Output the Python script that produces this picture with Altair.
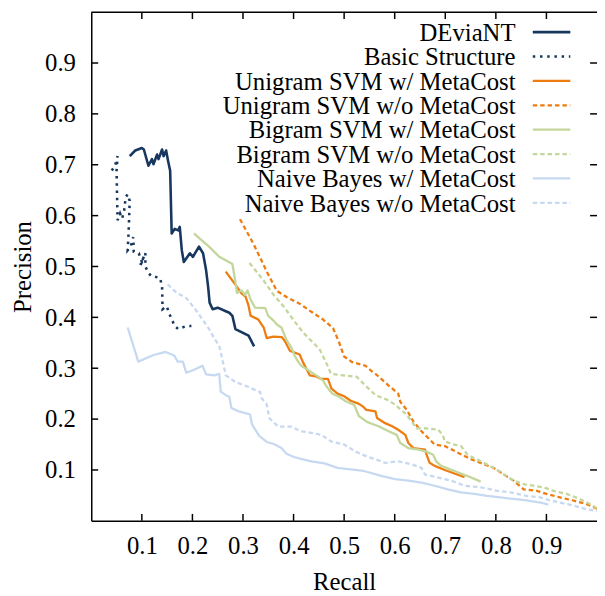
import altair as alt
import pandas as pd

SERIES = ["DEviaNT", "Basic Structure", "Unigram SVM w/ MetaCost", "Unigram SVM w/o MetaCost",
          "Bigram SVM w/ MetaCost", "Bigram SVM w/o MetaCost", "Naive Bayes w/ MetaCost",
          "Naive Bayes w/o MetaCost"]
COLORS = ["#17375E", "#17375E", "#EE7D11", "#EE7D11", "#C3D69B", "#C3D69B", "#C6D9F1", "#C6D9F1"]
DASHES = [None, [2.5, 4.8], None, [4.5, 3], None, [4.5, 3], None, [4.5, 3]]
WIDTHS = [2.6, 2.6, 2.3, 2.3, 2.3, 2.3, 2.3, 2.3]

TICKS = [0.1, 0.2, 0.3, 0.4, 0.5, 0.6, 0.7, 0.8, 0.9]

DEV_R = [0.076, 0.087, 0.100, 0.104, 0.113, 0.120, 0.123, 0.130, 0.133, 0.140, 0.143, 0.148,
         0.152, 0.156, 0.159, 0.165, 0.172, 0.175, 0.179, 0.183, 0.195, 0.201, 0.213, 0.221,
         0.227, 0.231, 0.234, 0.240, 0.250, 0.266, 0.273, 0.279, 0.285, 0.299, 0.311, 0.322]
DEV_P = [0.717, 0.728, 0.733, 0.730, 0.698, 0.711, 0.701, 0.720, 0.711, 0.730, 0.717, 0.728,
         0.707, 0.688, 0.565, 0.574, 0.571, 0.578, 0.532, 0.509, 0.526, 0.519, 0.539, 0.526,
         0.493, 0.461, 0.429, 0.416, 0.419, 0.412, 0.409, 0.403, 0.377, 0.370, 0.364, 0.343]

BASIC_R = [0.040, 0.046, 0.052, 0.050, 0.052, 0.057, 0.061, 0.065, 0.068, 0.072, 0.076, 0.074,
           0.072, 0.078, 0.083, 0.084, 0.094, 0.100, 0.104, 0.097, 0.107, 0.107, 0.113, 0.120,
           0.126, 0.136, 0.140, 0.141, 0.149, 0.156, 0.165, 0.172, 0.188, 0.198]
BASIC_P = [0.689, 0.694, 0.717, 0.688, 0.591, 0.604, 0.594, 0.610, 0.636, 0.642, 0.629, 0.571,
           0.532, 0.539, 0.558, 0.529, 0.526, 0.509, 0.519, 0.503, 0.526, 0.500, 0.487, 0.480,
           0.480, 0.477, 0.461, 0.416, 0.422, 0.403, 0.383, 0.377, 0.383, 0.383]

UNI_W_R = [0.266, 0.286, 0.296, 0.305, 0.311, 0.315, 0.330, 0.341, 0.347, 0.360, 0.377, 0.383,
           0.393, 0.412, 0.419, 0.432, 0.445, 0.455, 0.468, 0.475, 0.487, 0.500, 0.513, 0.527,
           0.537, 0.544, 0.562, 0.565, 0.581, 0.595, 0.607, 0.621, 0.627, 0.637, 0.660, 0.663,
           0.669, 0.679, 0.699, 0.718, 0.738]
UNI_W_P = [0.490, 0.463, 0.448, 0.441, 0.423, 0.403, 0.396, 0.380, 0.359, 0.362, 0.361, 0.353,
           0.334, 0.327, 0.311, 0.286, 0.284, 0.279, 0.279, 0.260, 0.250, 0.245, 0.236, 0.231,
           0.225, 0.218, 0.215, 0.202, 0.192, 0.186, 0.179, 0.169, 0.153, 0.143, 0.140, 0.130,
           0.114, 0.108, 0.100, 0.093, 0.086]

UNI_WO_R = [0.294, 0.321, 0.347, 0.367, 0.386, 0.412, 0.438, 0.458, 0.478, 0.490, 0.500, 0.516,
            0.542, 0.556, 0.562, 0.588, 0.607, 0.611, 0.624, 0.637, 0.653, 0.679, 0.699, 0.725,
            0.751, 0.777, 0.796, 0.816, 0.835, 0.855, 0.881, 0.900, 0.927, 0.953, 0.979, 1.0]
UNI_WO_P = [0.593, 0.544, 0.490, 0.452, 0.440, 0.427, 0.409, 0.396, 0.379, 0.351, 0.323, 0.312,
            0.305, 0.293, 0.289, 0.266, 0.250, 0.234, 0.218, 0.195, 0.176, 0.150, 0.147, 0.134,
            0.121, 0.111, 0.104, 0.091, 0.079, 0.062, 0.059, 0.053, 0.046, 0.040, 0.033, 0.024]

BI_W_R = [0.203, 0.218, 0.234, 0.253, 0.272, 0.279, 0.286, 0.288, 0.297, 0.304, 0.309, 0.315,
          0.324, 0.344, 0.350, 0.361, 0.367, 0.376, 0.383, 0.386, 0.396, 0.402, 0.409, 0.415,
          0.425, 0.435, 0.448, 0.458, 0.464, 0.471, 0.477, 0.490, 0.503, 0.520, 0.529, 0.546,
          0.568, 0.588, 0.604, 0.611, 0.627, 0.647, 0.663, 0.676, 0.682, 0.692, 0.718, 0.744,
          0.770]
BI_W_P = [0.565, 0.552, 0.538, 0.519, 0.509, 0.505, 0.464, 0.448, 0.453, 0.444, 0.453, 0.435,
          0.419, 0.418, 0.403, 0.393, 0.386, 0.380, 0.363, 0.356, 0.340, 0.325, 0.313, 0.305,
          0.299, 0.292, 0.284, 0.276, 0.266, 0.257, 0.250, 0.244, 0.235, 0.228, 0.206, 0.194,
          0.186, 0.176, 0.169, 0.153, 0.143, 0.140, 0.136, 0.130, 0.117, 0.108, 0.098, 0.088,
          0.077]

BI_WO_R = [0.313, 0.341, 0.360, 0.380, 0.399, 0.419, 0.438, 0.451, 0.464, 0.474, 0.498, 0.525,
           0.542, 0.562, 0.588, 0.601, 0.621, 0.634, 0.643, 0.660, 0.686, 0.695, 0.699, 0.718,
           0.731, 0.744, 0.770, 0.796, 0.816, 0.835, 0.855, 0.874, 0.894, 0.914, 0.940, 0.966,
           0.992, 1.0]
BI_WO_P = [0.507, 0.472, 0.445, 0.422, 0.396, 0.370, 0.351, 0.338, 0.312, 0.289, 0.286, 0.283,
           0.266, 0.247, 0.237, 0.228, 0.211, 0.195, 0.182, 0.182, 0.179, 0.169, 0.156, 0.150,
           0.147, 0.130, 0.117, 0.104, 0.091, 0.079, 0.072, 0.069, 0.066, 0.059, 0.053, 0.043,
           0.030, 0.024]

NB_W_R = [0.072, 0.093, 0.123, 0.147, 0.164, 0.171, 0.181, 0.188, 0.201, 0.220, 0.227, 0.243,
          0.253, 0.256, 0.266, 0.273, 0.277, 0.292, 0.314, 0.318, 0.332, 0.347, 0.361, 0.376,
          0.386, 0.402, 0.415, 0.435, 0.461, 0.487, 0.513, 0.539, 0.575, 0.601, 0.627, 0.653,
          0.679, 0.705, 0.731, 0.757, 0.783, 0.809, 0.835, 0.861, 0.888, 0.904]
NB_W_P = [0.380, 0.313, 0.326, 0.332, 0.325, 0.313, 0.313, 0.291, 0.296, 0.305, 0.288, 0.286,
          0.289, 0.254, 0.247, 0.244, 0.222, 0.215, 0.209, 0.189, 0.167, 0.155, 0.151, 0.143,
          0.132, 0.125, 0.122, 0.117, 0.113, 0.104, 0.101, 0.098, 0.088, 0.082, 0.079, 0.075,
          0.069, 0.062, 0.056, 0.053, 0.049, 0.046, 0.043, 0.040, 0.036, 0.032]

NB_WO_R = [0.151, 0.169, 0.188, 0.210, 0.233, 0.243, 0.253, 0.259, 0.266, 0.285, 0.311, 0.334,
           0.337, 0.347, 0.352, 0.370, 0.396, 0.415, 0.435, 0.455, 0.474, 0.500, 0.523, 0.546,
           0.562, 0.581, 0.607, 0.634, 0.653, 0.660, 0.686, 0.712, 0.738, 0.770, 0.803, 0.829,
           0.861, 0.888, 0.907, 0.927, 0.953, 0.979, 1.0]
NB_WO_P = [0.465, 0.448, 0.438, 0.410, 0.377, 0.359, 0.344, 0.318, 0.286, 0.273, 0.263, 0.253,
           0.241, 0.229, 0.202, 0.185, 0.185, 0.176, 0.173, 0.169, 0.156, 0.150, 0.136, 0.126,
           0.121, 0.114, 0.117, 0.111, 0.104, 0.091, 0.085, 0.079, 0.069, 0.066, 0.059, 0.056,
           0.049, 0.046, 0.040, 0.036, 0.030, 0.023, 0.019]

CURVES = [(DEV_R, DEV_P), (BASIC_R, BASIC_P), (UNI_W_R, UNI_W_P), (UNI_WO_R, UNI_WO_P),
          (BI_W_R, BI_W_P), (BI_WO_R, BI_WO_P), (NB_W_R, NB_W_P), (NB_WO_R, NB_WO_P)]

FONT = "'Liberation Serif', 'Times New Roman', Times, serif"
FS = 25
W, H = 512, 515
TL = 7  # tick length

xs = alt.Scale(domain=[0, 1], nice=False, zero=False)
ys = alt.Scale(domain=[0, 1], nice=False, zero=False)

XAXIS = alt.Axis(values=TICKS, format=".1f", title="Recall", ticks=False, tickSize=0,
                 grid=False, labelPadding=13.5, titlePadding=11, domainColor="black",
                 domainWidth=1.5, labelFontSize=FS, titleFontSize=FS, labelFont=FONT,
                 titleFont=FONT, titleFontWeight="normal", labelColor="black",
                 titleColor="black", labelFlush=False)
YAXIS = alt.Axis(values=TICKS, format=".1f", title="Precision", ticks=False, tickSize=0,
                 grid=False, labelPadding=16, titlePadding=9, domainColor="black",
                 domainWidth=1.5, labelFontSize=FS, titleFontSize=FS, labelFont=FONT,
                 titleFont=FONT, titleFontWeight="normal", labelColor="black",
                 titleColor="black", labelFlush=False)

layers = []
for k, (name, (rr, pp)) in enumerate(zip(SERIES, CURVES)):
    df = pd.DataFrame({"r": rr, "p": pp, "i": list(range(len(rr))), "s": name})
    mk = dict(color=COLORS[k], strokeWidth=WIDTHS[k], clip=True, strokeJoin="round")
    if DASHES[k] is not None:
        mk["strokeDash"] = DASHES[k]
        mk["strokeJoin"] = "miter"
    layers.append(
        alt.Chart(df).mark_line(**mk).encode(
            x=alt.X("r:Q", scale=xs, axis=XAXIS),
            y=alt.Y("p:Q", scale=ys, axis=YAXIS),
            order=alt.Order("i:Q"),
        )
    )

tick_df = pd.DataFrame({"v": TICKS})
rule_style = dict(color="black", strokeWidth=1.5)
layers.append(alt.Chart(tick_df).mark_rule(**rule_style).encode(
    x=alt.X("v:Q", scale=xs, axis=XAXIS), y=alt.value(0), y2=alt.value(TL)))
layers.append(alt.Chart(tick_df).mark_rule(**rule_style).encode(
    x=alt.X("v:Q", scale=xs, axis=XAXIS), y=alt.value(H - TL), y2=alt.value(H)))
layers.append(alt.Chart(tick_df).mark_rule(**rule_style).encode(
    y=alt.Y("v:Q", scale=ys, axis=YAXIS), x=alt.value(0), x2=alt.value(TL)))
layers.append(alt.Chart(tick_df).mark_rule(**rule_style).encode(
    y=alt.Y("v:Q", scale=ys, axis=YAXIS), x=alt.value(W - TL), x2=alt.value(W)))
# top border
layers.append(alt.Chart(pd.DataFrame({"a": [0]})).mark_rule(**rule_style).encode(
    x=alt.value(0), x2=alt.value(W), y=alt.value(0)))

# legend (labels left of the line samples, as gnuplot draws them)
for k, name in enumerate(SERIES):
    ldf = pd.DataFrame({"name": [name]})
    layers.append(alt.Chart(ldf).mark_text(
        align="right", baseline="middle", font=FONT, fontSize=FS, color="black").encode(
        text="name:N", x=alt.value(429.5), y=alt.value(21 + 24.7 * k)))
    mk = dict(color=COLORS[k], strokeWidth=WIDTHS[k])
    if DASHES[k] is not None:
        mk["strokeDash"] = DASHES[k]
    layers.append(alt.Chart(ldf).mark_rule(**mk).encode(
        x=alt.value(447), x2=alt.value(485), y=alt.value(20.2 + 24.7 * k)))

chart = alt.layer(*layers).properties(
    width=W, height=H,
    autosize=alt.AutoSizeParams(type="none"),
    padding={"left": 84.3, "top": 0.5, "right": 0, "bottom": 80},
    background="white",
).configure_view(stroke=None)

chart.save("out.html", embed_options={"renderer": "svg", "actions": False})
